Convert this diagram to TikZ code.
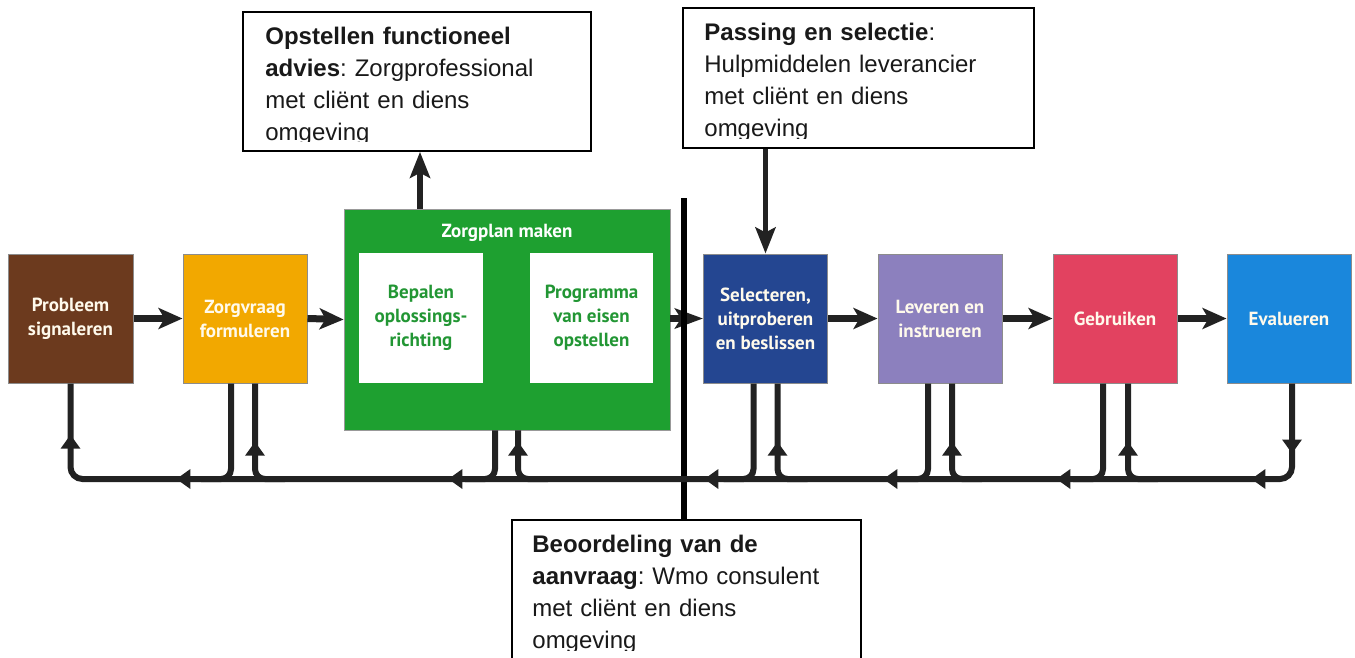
\documentclass[tikz,border=0pt]{standalone}
\usepackage{fontspec}
\setmainfont{Liberation Sans}
\newfontfamily\boxfont{PT Sans}
\usetikzlibrary{arrows.meta,calc,decorations.markings}
\definecolor{cbrown}{RGB}{108,58,30}
\definecolor{corange}{RGB}{242,168,0}
\definecolor{cgreen}{RGB}{30,160,48}
\definecolor{cgreentext}{RGB}{34,150,52}
\definecolor{cnavy}{RGB}{36,70,145}
\definecolor{clav}{RGB}{140,128,190}
\definecolor{cred}{RGB}{226,66,96}
\definecolor{cblue}{RGB}{26,135,220}
\definecolor{ccream}{RGB}{255,250,236}
\definecolor{cline}{RGB}{34,34,34}
\definecolor{ctext}{RGB}{25,25,25}
\frenchspacing
\begin{document}
\begin{tikzpicture}[x=1pt,y=-1pt,
  stage/.style={draw=black!45, line width=1pt, minimum width=124pt, minimum height=129pt,
    inner sep=0pt, align=center, text=ccream,
    font=\boxfont\bfseries\fontsize{19}{24}\selectfont},
  innerbox/.style={fill=white, draw=none, minimum width=124pt, minimum height=130pt,
    inner sep=0pt, align=center, text=cgreentext,
    font=\boxfont\bfseries\fontsize{19}{24}\selectfont},
  callout/.style={draw=black, line width=1.6pt, fill=white, minimum width=348pt,
    minimum height=139pt, inner sep=0pt},
  calltext/.style={anchor=base west, inner sep=0pt, text width=330pt, align=left,
    text=ctext, font=\fontsize{24}{32}\selectfont},
  flow/.style={draw=cline, line width=7pt, -{Stealth[length=24pt,width=21pt,inset=6pt]}},
  callarrow/.style={draw=cline, line width=5.5pt, -{Stealth[length=26pt,width=20pt,inset=5pt]}},
  fb/.style={draw=cline, line width=6pt},
  vline/.style={draw=black, line width=6pt}
]
\useasboundingbox (0,0) rectangle (1355,657);

% stage boxes
\node[stage, fill=cbrown, minimum width=125pt] (prob) at (70.5,318.5) {Probleem\\signaleren};
\node[stage, fill=corange] (zorg) at (245,318.5) {Zorgvraag\\formuleren};
\node[draw=black!40, line width=0.8pt, fill=cgreen, minimum width=326pt, minimum height=221pt, inner sep=0pt] (green) at (507,319.5) {};
\node[text=white, font=\boxfont\bfseries\fontsize{19}{24}\selectfont, inner sep=0pt] (zplabel) at ($(green.north)+(0,24)$) {Zorgplan maken};
\node[innerbox] (bep) at (421,318) {Bepalen\\oplossings-\\richting};
\node[innerbox, minimum width=123pt] (prog) at (591.5,318) {Programma\\van eisen\\opstellen};
\node[stage, fill=cnavy] (sel) at (765.5,318.5) {Selecteren,\\uitproberen\\en beslissen};
\node[stage, fill=clav] (lev) at (940,318.5) {Leveren en\\instrueren};
\node[stage, fill=cred] (geb) at (1115,318.5) {Gebruiken};
\node[stage, fill=cblue] (eva) at (1289,318.5) {Evalueren};

% callout boxes
\node[callout] (c1) at (417,81.5) {};
\node[callout, minimum width=351pt, minimum height=140pt] (c2) at (858.5,78) {};
\node[callout, minimum width=349pt, minimum height=140pt] (c3) at (686.5,590) {};
\begin{scope}
  \clip (c1.north west) rectangle ($(c1.south east)+(0,-10)$);
  \node[calltext] (t1) at ($(c1.north west)+(23,33)$)
    {\textbf{Opstellen functioneel}\\\textbf{advies}: Zorgprofessional\\met cliënt en diens\\omgeving};
\end{scope}
\begin{scope}
  \clip (c2.north west) rectangle ($(c2.south east)+(0,-10)$);
  \node[calltext] (t2) at ($(c2.north west)+(22,33)$)
    {\textbf{Passing en selectie}:\\Hulpmiddelen leverancier\\met cliënt en diens\\omgeving};
\end{scope}
\begin{scope}
  \clip (c3.north west) rectangle ($(c3.south east)+(0,-10)$);
  \node[calltext] (t3) at ($(c3.north west)+(21,33)$)
    {\textbf{Beoordeling van de}\\\textbf{aanvraag}: Wmo consulent\\met cliënt en diens\\omgeving};
\end{scope}

% main flow arrows
\draw[flow] (prob.east) -- (zorg.west);
\draw[flow] (zorg.east) -- (green.west);
\draw[flow] (sel.east) -- (lev.west);
\draw[flow] (lev.east) -- (geb.west);
\draw[flow] (geb.east) -- (eva.west);
\draw[draw=cline, line width=7pt, -{Stealth[length=28pt,width=20pt,inset=6pt]}]
  (green.east |- sel.west) -- (sel.west);

% vertical separator
\coordinate (vtop) at (684,198);
\draw[vline] (vtop) -- (vtop |- c3.north);

% callout arrows
\coordinate (ax1) at (420,0);
\draw[callarrow] (green.north -| ax1) -- (c1.south -| ax1);
\draw[callarrow] (c2.south -| sel.north) -- (sel.north);

% feedback bus
\coordinate (busy) at (0,479);
\draw[fb, rounded corners=12pt,
  postaction={decorate, decoration={markings,
    mark=at position 70pt with {\arrow{Triangle[length=14pt,width=19pt]}},
    mark=at position 131pt with {\arrow{Triangle[length=14pt,width=19pt]}},
    mark=at position 326pt with {\arrow{Triangle[length=14pt,width=19pt]}},
    mark=at position 499pt with {\arrow{Triangle[length=14pt,width=19pt]}},
    mark=at position 678pt with {\arrow{Triangle[length=14pt,width=19pt]}},
    mark=at position 934pt with {\arrow{Triangle[length=14pt,width=19pt]}},
    mark=at position 1206pt with {\arrow{Triangle[length=14pt,width=19pt]}},
    mark=at position 1351pt with {\arrow{Triangle[length=14pt,width=19pt]}}}}]
  ([xshift=3pt]eva.south) |- (prob.south |- busy) -- (prob.south);

% down stems (box to bus, turning left)
\foreach \b/\dx in {zorg/-14, green/-12, sel/-12, lev/-12, geb/-12}{
  \draw[fb, rounded corners=10pt] ([xshift=\dx pt]\b.south) |- ([xshift=\dx pt - 30pt]\b.south |- busy);
}
% up stems (bus to box, with arrow)
\foreach \b/\dx in {zorg/10, green/11, sel/12, lev/12, geb/13}{
  \draw[fb, rounded corners=10pt,
    postaction={decorate, decoration={markings,
      mark=at position 63pt with {\arrow{Triangle[length=14pt,width=19pt]}}}}]
    ([xshift=\dx pt + 30pt]\b.south |- busy) -| ([xshift=\dx pt]\b.south);
}
\end{tikzpicture}
\end{document}
